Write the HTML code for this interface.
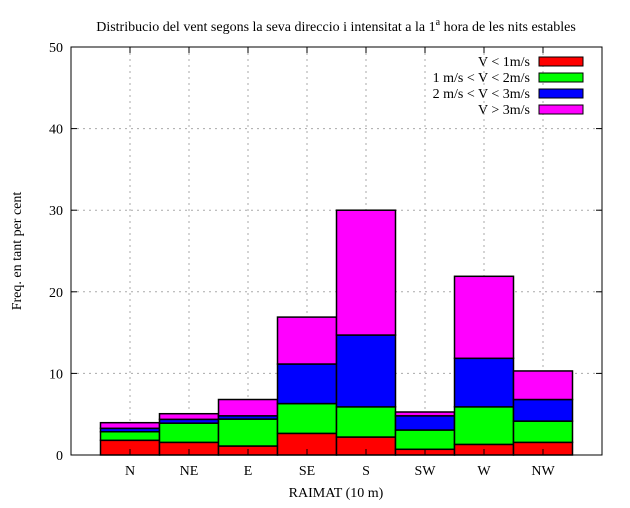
<!DOCTYPE html>
<html><head><meta charset="utf-8"><style>
body{margin:0;background:#fff}
svg text{font-family:"Liberation Serif",serif;font-size:14px;fill:#000}
</style></head><body>
<svg id="c" width="630" height="503">
<text x="336" y="31" text-anchor="middle">Distribucio del vent segons la seva direccio i intensitat a la 1<tspan dy="-6" font-size="10">a</tspan><tspan dy="6"> hora de les nits estables</tspan></text>
<g id="grid"></g><g id="bars"></g><g id="axes"></g><g id="legend"></g>
<text x="336" y="497" text-anchor="middle">RAIMAT (10 m)</text>
<text transform="translate(21,251) rotate(-90)" text-anchor="middle">Freq. en tant per cent</text>
</svg>
<script>
const categories=["N","NE","E","SE","S","SW","W","NW"];
const v1=[1.8,1.55,1.1,2.65,2.2,0.7,1.3,1.55];
const v2=[1.05,2.35,3.3,3.65,3.7,2.36,4.6,2.6];
const v3=[0.42,0.47,0.4,4.85,8.8,1.74,5.95,2.65];
const v4=[0.69,0.69,2.0,5.75,15.3,0.47,10.05,3.5];
const yTicks=[0,10,20,30,40,50];
const seriesNames=["V < 1m/s","1 m/s < V < 2m/s","2 m/s < V < 3m/s","V > 3m/s"];
const colors=["#ff0000","#00ff00","#0000ff","#ff00ff"];
const X0=71,X1=602,Y0=455,Y1=47;
const xs=i=>X0+(i+1)*(X1-X0)/9;
const ys=v=>Y0-v*(Y0-Y1)/50;
const NS="http://www.w3.org/2000/svg";
function mk(p,t,a){const e=document.createElementNS(NS,t);for(const k in a)e.setAttribute(k,a[k]);p.appendChild(e);return e;}
const grid=document.getElementById('grid'),bars=document.getElementById('bars'),axes=document.getElementById('axes'),leg=document.getElementById('legend');
yTicks.forEach(t=>{
 if(t>0&&t<50){const l=mk(grid,'line',{x1:X0,x2:X1,y1:ys(t),y2:ys(t),stroke:'#aaa','stroke-dasharray':'2,4'});
 
 }
 const tx=mk(axes,'text',{x:X0-8,y:ys(t)+5,'text-anchor':'end'});tx.textContent=t;
 
 
 mk(axes,'line',{x1:X0,x2:X0+6,y1:ys(t),y2:ys(t),stroke:'#000'});
 mk(axes,'line',{x1:X1,x2:X1-6,y1:ys(t),y2:ys(t),stroke:'#000'});
});
categories.forEach((c,i)=>{
 const x=xs(i);
 const g=mk(grid,'line',{x1:x,x2:x,y1:Y1,y2:Y0,stroke:'#aaa','stroke-dasharray':'2,4'});
 
 
 mk(axes,'line',{x1:x,x2:x,y1:Y0,y2:Y0-6,stroke:'#000'});
 mk(axes,'line',{x1:x,x2:x,y1:Y1,y2:Y1+6,stroke:'#000'});
 const tx=mk(axes,'text',{x:x,y:Y0+20,'text-anchor':'middle'});tx.textContent=c;
 
 
 let base=0;const w=(X1-X0)/9;
 [v1,v2,v3,v4].forEach((s,k)=>{
  const r=mk(bars,'rect',{x:x-w/2,y:ys(base+s[i]),width:w,height:ys(base)-ys(base+s[i]),fill:colors[k],stroke:'#000','stroke-width':1.5});
  
  
  base+=s[i];
 });
});
const fr=mk(axes,'rect',{x:X0,y:Y1,width:X1-X0,height:Y0-Y1,fill:'none',stroke:'#000'});


seriesNames.forEach((n,k)=>{
 const y=61+k*16;
 const t=mk(leg,'text',{x:530,y:y+5,'text-anchor':'end'});t.textContent=n;
 
 
 const r=mk(leg,'rect',{x:539,y:y-4,width:44,height:9,fill:colors[k],stroke:'#000'});
 
 
});
</script>
</body></html>
